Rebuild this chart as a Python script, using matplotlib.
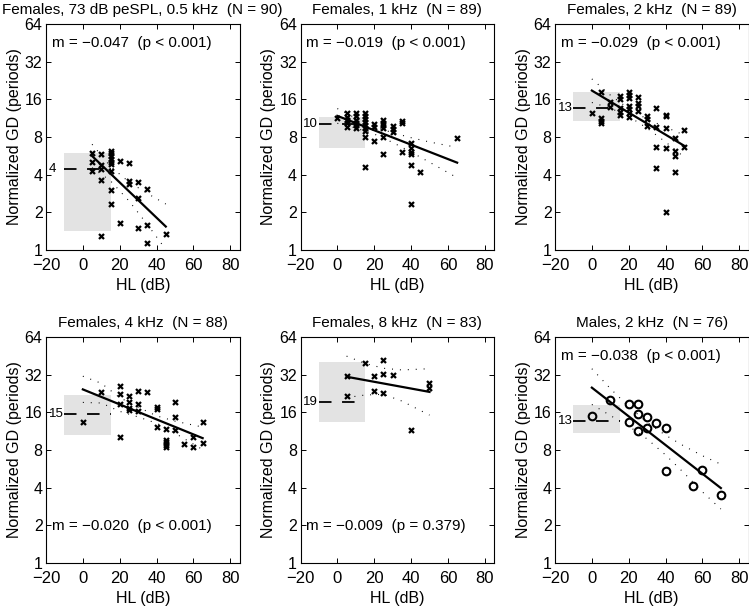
import matplotlib
matplotlib.use('Agg')
import matplotlib.pyplot as plt
from matplotlib.ticker import NullLocator

plt.rcParams['font.family'] = ['Liberation Sans', 'DejaVu Sans']
plt.rcParams['font.size'] = 11
plt.rcParams['lines.scale_dashes'] = False

# ---------------- data ----------------
titles = ["Females, 73 dB peSPL, 0.5 kHz  (N = 90)", "Females, 1 kHz  (N = 89)",
          "Females, 2 kHz  (N = 89)", "Females, 4 kHz  (N = 88)",
          "Females, 8 kHz  (N = 83)", "Males, 2 kHz  (N = 76)"]
stats = ["m = \u22120.047  (p < 0.001)", "m = \u22120.019  (p < 0.001)",
         "m = \u22120.029  (p < 0.001)", "m = \u22120.020  (p < 0.001)",
         "m = \u22120.009  (p = 0.379)", "m = \u22120.038  (p < 0.001)"]
stat_top = [True, True, True, False, False, True]

# scatter points (HL in dB, normalized GD in periods)
p1_x = [5, 5, 5, 10, 10, 10, 10, 10, 15, 15, 15, 15, 15, 15, 15, 15, 15,
        20, 20, 25, 25, 25, 30, 30, 30, 35, 35, 35, 45]
p1_y = [5.93, 5.08, 4.28, 5.85, 4.78, 4.44, 3.63, 1.29, 6.18, 5.93, 5.64, 5.34,
        5.08, 4.84, 4.28, 3.02, 2.32, 5.14, 1.65, 4.99, 3.58, 3.37, 3.47, 2.59,
        1.51, 3.06, 1.58, 1.13, 1.34]
p2_x = [0, 5, 5, 5, 5, 5, 10, 10, 10, 10, 10, 10, 15, 15, 15, 15, 15, 15, 15, 15, 15,
        20, 20, 20, 25, 25, 25, 25, 25, 25, 30, 30, 30, 35, 35, 35,
        40, 40, 40, 40, 40, 40, 45, 65]
p2_y = [11.3, 12.4, 11.6, 10.9, 10.3, 9.56, 12.4, 11.7, 11.0, 10.4, 9.9, 9.4,
        12.4, 11.7, 11.1, 10.5, 9.9, 9.4, 8.9, 8.05, 4.64,
        10.2, 9.6, 7.39, 10.9, 10.4, 9.9, 9.4, 8.05, 5.85, 9.8, 9.3, 8.8,
        10.8, 10.3, 6.1, 7.1, 6.5, 6.1, 5.85, 4.78, 2.32, 4.2, 7.8]
p3_x = [0, 5, 5, 5, 5, 10, 10, 15, 15, 15, 15, 15, 20, 20, 20, 20, 20, 20, 20,
        25, 25, 25, 25, 30, 30, 30, 35, 35, 35, 35, 40, 40, 40, 40, 40,
        45, 45, 45, 45, 50, 50]
p3_y = [12.4, 18.4, 11.3, 10.8, 10.3, 15.3, 13.8, 17.1, 16.1, 13.6, 12.7, 12.0,
        18.4, 17.3, 16.3, 14.1, 13.3, 12.4, 11.6, 16.8, 15.0, 14.1, 13.0,
        11.8, 11.1, 9.8, 13.6, 9.7, 6.7, 4.55, 12.1, 11.8, 9.4, 6.5, 2.02,
        7.8, 6.2, 5.6, 4.17, 9.1, 6.7]
p4_x = [0, 10, 20, 20, 20, 20, 25, 25, 25, 25, 30, 30, 30, 35, 40, 40, 40,
        45, 45, 45, 45, 45, 50, 50, 50, 55, 60, 60, 65, 65]
p4_y = [13.5, 23.3, 26.0, 22.3, 18.8, 10.2, 21.6, 19.5, 17.4, 16.6, 23.7, 18.6,
        16.4, 23.3, 17.7, 16.9, 12.3, 11.7, 9.6, 9.2, 8.7, 8.5, 19.5, 14.7, 11.5,
        8.9, 10.2, 8.4, 13.5, 9.07]
p5_x = [5, 5, 15, 20, 20, 25, 25, 25, 30, 40, 50, 50]
p5_y = [31.2, 21.6, 39.4, 31.2, 23.7, 41.9, 32.6, 22.7, 31.8, 11.5, 27.6, 25.2]
p6_x = [0, 10, 20, 20, 25, 25, 25, 30, 30, 35, 40, 40, 55, 60, 70]
p6_y = [15.0, 20.1, 18.6, 13.4, 18.6, 15.4, 11.4, 14.7, 11.9, 13.1, 11.9, 5.45,
        4.09, 5.52, 3.48]

# regression line end points
fit_x = [[5, 45], [0, 65], [0, 50], [0, 65], [5, 50], [0, 70]]
fit_y = [[5.64, 1.54], [11.8, 4.99], [18.8, 6.82], [24.4, 9.95], [30.8, 23.3], [25.2, 3.97]]

# confidence bands
b1_x = [5, 15, 25, 35, 45]
b1_hi = [7.0, 4.65, 3.5, 2.83, 2.33]
b1_lo = [4.55, 3.57, 2.47, 1.6, 1.01]
b2_x = [0, 10, 20, 30, 40, 50, 65]
b2_hi = [13.5, 11.3, 9.65, 8.66, 7.9, 7.3, 6.6]
b2_lo = [10.3, 9.43, 8.45, 7.24, 6.06, 5.03, 3.78]
b3_x = [0, 10, 20, 30, 40, 50]
b3_hi = [23.3, 17.3, 13.5, 11.1, 9.6, 8.3]
b3_lo = [15.1, 13.6, 11.7, 9.4, 7.3, 5.55]
b4_x = [0, 10, 20, 30, 40, 50, 65]
b4_hi = [31.1, 27.3, 21.0, 17.6, 15.0, 13.6, 12.2]
b4_lo = [19.2, 19.0, 16.3, 14.7, 13.1, 10.9, 8.06]
b5_x = [5, 15, 25, 35, 50]
b5_hi = [45.0, 39.4, 36.0, 34.9, 35.7]
b5_lo = [21.0, 22.0, 22.3, 19.7, 15.2]
b6_x = [0, 10, 20, 30, 40, 50, 60, 70]
b6_hi = [35.7, 24.8, 17.8, 13.3, 10.5, 8.6, 7.2, 6.16]
b6_lo = [18.5, 15.1, 12.4, 9.8, 7.3, 5.24, 3.7, 2.7]

# normal-hearing reference (shaded range and median)
norm_xrange = [-10, 15]
norm_val = [4.44, 10.1, 13.7, 15.6, 19.25, 13.65]
norm_label = ["4", "10", "13", "15", "19", "13"]
norm_lo = [1.43, 6.5, 10.8, 10.6, 13.4, 10.9]
norm_hi = [5.93, 11.6, 18.4, 22.0, 40.6, 18.3]

xs = [p1_x, p2_x, p3_x, p4_x, p5_x, p6_x]
ys = [p1_y, p2_y, p3_y, p4_y, p5_y, p6_y]
bx = [b1_x, b2_x, b3_x, b4_x, b5_x, b6_x]
bhi = [b1_hi, b2_hi, b3_hi, b4_hi, b5_hi, b6_hi]
blo = [b1_lo, b2_lo, b3_lo, b4_lo, b5_lo, b6_lo]
markers = ['x', 'x', 'x', 'x', 'x', 'o']

xticks = [-20, 0, 20, 40, 60, 80]
yticks = [1, 2, 4, 8, 16, 32, 64]

# ---------------- layout ----------------
W, H = 749, 609
fig = plt.figure(figsize=(W / 100, H / 100), dpi=100)
lefts = [46, 300.5, 555]
tops = [24, 337]
aw, ah = 193.5, 226

for i in range(6):
    left = lefts[i % 3]
    top = tops[i // 3]
    ax = fig.add_axes([left / W, (H - top - ah) / H, aw / W, ah / H])
    ax.set_yscale('log', base=2)
    ax.set_xlim(-20, 85)
    ax.set_ylim(1, 64)
    ax.set_xticks(xticks)
    ax.set_xticklabels([str(t).replace('-', '\u2212') for t in xticks])
    ax.set_yticks(yticks)
    ax.set_yticklabels([str(t) for t in yticks])
    ax.yaxis.set_minor_locator(NullLocator())
    ax.xaxis.set_minor_locator(NullLocator())
    ax.tick_params(direction='in', top=True, right=True, length=3.5, width=0.7)
    ax.tick_params(axis='x', pad=6, labelsize=12)
    ax.tick_params(axis='y', pad=2.5, labelsize=11.5)
    for s in ax.spines.values():
        s.set_linewidth(0.8)

    ax.fill_between(norm_xrange, norm_lo[i], norm_hi[i], color='#e3e3e3', lw=0, zorder=0)
    ax.plot(norm_xrange, [norm_val[i]] * 2, color='k', lw=1.3, dashes=(9, 7.6), zorder=2)
    ax.text(-18.5, norm_val[i], norm_label[i], ha='left', va='center', fontsize=9.5)

    ax.plot(bx[i], bhi[i], color='k', lw=0.8, dashes=(0.7, 5.0), zorder=2)
    ax.plot(bx[i], blo[i], color='k', lw=0.8, dashes=(0.7, 5.0), zorder=2)
    ax.plot(fit_x[i], fit_y[i], color='k', lw=1.6, zorder=3)
    if markers[i] == 'x':
        ax.plot(xs[i], ys[i], 'x', color='k', ms=3.6, mew=1.6, zorder=4)
    else:
        ax.plot(xs[i], ys[i], 'o', mfc='none', mec='k', ms=5.5, mew=1.5, zorder=4)

    ax.text(0.03, 0.915 if stat_top[i] else 0.162, stats[i], transform=ax.transAxes,
            ha='left', va='center', fontsize=11)
    ax.set_title(titles[i], fontsize=11, pad=7)
    ax.set_xlabel('HL (dB)', fontsize=11.5, labelpad=3)
    ax.set_ylabel('Normalized GD (periods)', fontsize=11.5, labelpad=2)

fig.savefig('out.png', dpi=100)
